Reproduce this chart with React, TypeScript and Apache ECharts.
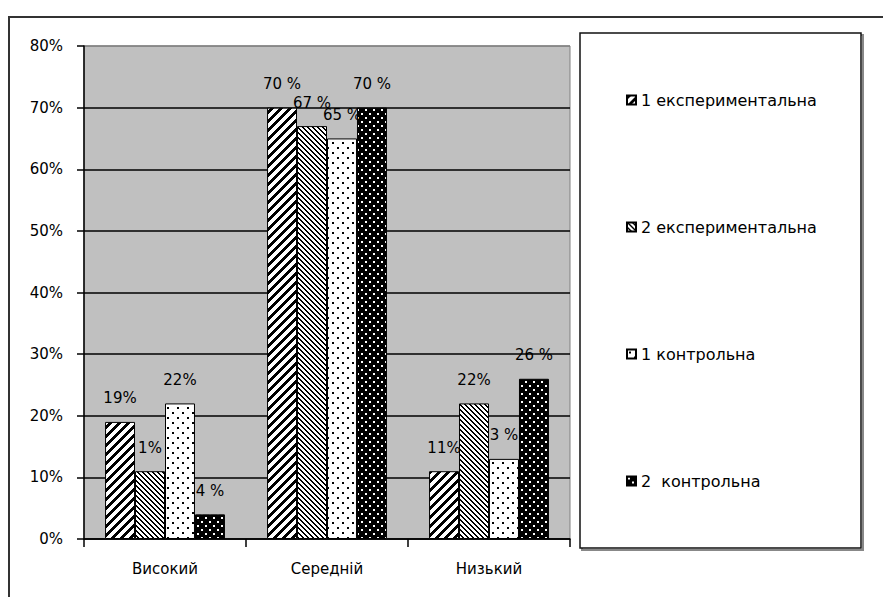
import React, { useEffect, useRef } from "react";
import * as echarts from "echarts";

const categories = ["Високий", "Середній", "Низький"];
const seriesNames = ["1 експериментальна", "2 експериментальна", "1 контрольна", "2  контрольна"];

const exp1Values = [19, 70, 11];
const exp2Values = [11, 67, 22];
const ctrl1Values = [22, 65, 13];
const ctrl2Values = [4, 70, 26];

const exp1Labels = ["19%", "70 %", "11%"];
const exp2Labels = ["1%", "67 %", "22%"];
const ctrl1Labels = ["22%", "65 %", "3 %"];
const ctrl2Labels = ["4 %", "70 %", "26 %"];

const yMin = 0;
const yMax = 80;
const yStep = 10;

const FONT = "DejaVu Sans";

function makePattern(
  w: number,
  h: number,
  isDark: (x: number, y: number) => boolean
) {
  const c = document.createElement("canvas");
  c.width = w;
  c.height = h;
  const ctx = c.getContext("2d")!;
  const img = ctx.createImageData(w, h);
  for (let y = 0; y < h; y++) {
    for (let x = 0; x < w; x++) {
      const i = (y * w + x) * 4;
      const v = isDark(x, y) ? 0 : 255;
      img.data[i] = v;
      img.data[i + 1] = v;
      img.data[i + 2] = v;
      img.data[i + 3] = 255;
    }
  }
  ctx.putImageData(img, 0, 0);
  return {
    image: c.toDataURL(),
    repeat: "repeat",
    imageWidth: w,
    imageHeight: h,
  };
}

export default function App() {
  const ref = useRef<HTMLDivElement>(null);

  useEffect(() => {
    document.body.style.margin = "0";
    if (!ref.current) return;
    const chart = echarts.init(ref.current, null, { renderer: "svg" });

    const patterns = [
      makePattern(9, 9, (x, y) => (x + y) % 9 < 4),
      makePattern(5, 5, (x, y) => (((x - y) % 5) + 5) % 5 < 2),
      makePattern(10, 10, (x, y) =>
        (x >= 2 && x < 4 && y >= 2 && y < 4) || (x >= 7 && x < 9 && y >= 7 && y < 9)
      ),
      makePattern(8, 8, (x, y) =>
        !((x >= 1 && x < 3 && y >= 1 && y < 3) || (x >= 5 && x < 7 && y >= 5 && y < 7))
      ),
    ];

    const valuesList = [exp1Values, exp2Values, ctrl1Values, ctrl2Values];
    const labelsList = [exp1Labels, exp2Labels, ctrl1Labels, ctrl2Labels];

    const series = seriesNames.map((name, si) => ({
      name,
      type: "bar",
      data: valuesList[si],
      barGap: "0%",
      barCategoryGap: "26%",
      itemStyle: {
        color: patterns[si],
        borderColor: "#000",
        borderWidth: 1,
      },
      label: {
        show: true,
        position: "top",
        distance: 16,
        fontFamily: FONT,
        fontSize: 15,
        color: "#000",
        formatter: (p: any) => labelsList[si][p.dataIndex],
      },
    }));

    const splitColors: string[] = [];
    for (let v = yMin; v <= yMax; v += yStep) {
      splitColors.push(v === yMax ? "#808080" : "#000");
    }

    chart.setOption({
      animation: false,
      backgroundColor: "#fff",
      grid: {
        left: 84,
        right: 313,
        top: 46,
        bottom: 58,
        show: true,
        backgroundColor: "#c0c0c0",
        borderColor: "#808080",
        borderWidth: 1,
      },
      legend: {
        orient: "vertical",
        left: 621,
        top: 86,
        itemWidth: 9,
        itemHeight: 9,
        itemGap: 109,
        icon: "rect",
        selectedMode: false,
        textStyle: {
          fontFamily: FONT,
          fontSize: 16,
          color: "#000",
          lineHeight: 18,
        },
        data: seriesNames,
      },
      xAxis: {
        type: "category",
        data: categories,
        axisLine: { lineStyle: { color: "#000", width: 1.5 } },
        axisTick: { show: true, length: 8, lineStyle: { color: "#000", width: 1.5 } },
        axisLabel: {
          fontFamily: FONT,
          fontSize: 15,
          color: "#000",
          margin: 22,
        },
      },
      yAxis: {
        type: "value",
        min: yMin,
        max: yMax,
        interval: yStep,
        axisLine: { show: true, lineStyle: { color: "#000", width: 1.5 } },
        axisTick: { show: true, length: 7, lineStyle: { color: "#000", width: 1.5 } },
        axisLabel: {
          fontFamily: FONT,
          fontSize: 15,
          color: "#000",
          margin: 21,
          formatter: "{value}%",
        },
        splitLine: { show: true, lineStyle: { color: splitColors, width: 1.5 } },
      },
      graphic: [
        {
          type: "rect",
          shape: { x: 9, y: 17, width: 1000, height: 1000 },
          style: { fill: "none", stroke: "#333", lineWidth: 2 },
          silent: true,
        },
        {
          type: "rect",
          shape: { x: 582, y: 35, width: 281, height: 515 },
          style: { fill: "none", stroke: "#888", lineWidth: 2 },
          silent: true,
        },
        {
          type: "rect",
          shape: { x: 580, y: 33, width: 281, height: 515 },
          style: { fill: "#fff", stroke: "#111", lineWidth: 1.5 },
          silent: true,
        },
      ],
      series,
    });

    return () => chart.dispose();
  }, []);

  return <div ref={ref} style={{ width: 883, height: 597 }} />;
}
